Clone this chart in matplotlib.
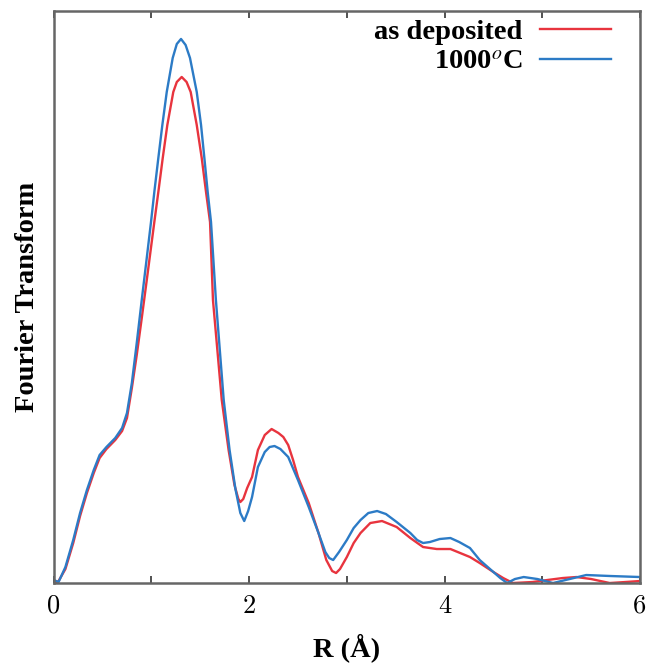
import numpy as np
import matplotlib
matplotlib.use("Agg")
import matplotlib.pyplot as plt

plt.rcParams['mathtext.fontset'] = 'stix'

# values (heights in pixel units above the baseline)
r_dep = [0.00, 0.05, 0.12, 0.20, 0.27, 0.34, 0.41, 0.47, 0.54, 0.63, 0.70, 0.75, 0.80,
         0.85, 0.90, 0.95, 1.03, 1.071, 1.116, 1.163, 1.224, 1.26, 1.31, 1.36, 1.402,
         1.464, 1.515, 1.559, 1.60, 1.63, 1.72, 1.79, 1.85, 1.89, 1.91, 1.94, 1.98,
         2.03, 2.09, 2.16, 2.23, 2.30, 2.35, 2.40, 2.45, 2.50, 2.61, 2.71, 2.79,
         2.85, 2.89, 2.93, 3.00, 3.07, 3.14, 3.24, 3.36, 3.51, 3.65, 3.78, 3.92,
         4.06, 4.26, 4.36, 4.50, 4.60, 4.70, 4.90, 5.05, 5.21, 5.35, 5.50, 5.69,
         5.85, 6.00]
ft_dep = [0, 2, 14, 40, 67, 90, 110, 125, 134, 143, 152, 165, 195,
          228, 264, 301, 361, 391, 425, 458, 491, 501, 506, 501, 491,
          458, 425, 391, 361, 283, 183, 133, 98, 84, 81, 84, 95,
          106, 133, 148, 154, 150, 146, 138, 123, 106, 80, 50, 23,
          12, 10, 14, 26, 40, 50, 60, 62, 56, 45, 36, 34,
          34, 26, 20, 11, 5, 0, 1, 3, 5, 6, 4, 0,
          1, 2]

r_ann = [0.00, 0.05, 0.12, 0.20, 0.27, 0.34, 0.41, 0.47, 0.54, 0.63, 0.70, 0.75, 0.80,
         0.85, 0.90, 0.95, 0.996, 1.030, 1.071, 1.112, 1.157, 1.218, 1.26, 1.303, 1.35,
         1.395, 1.464, 1.508, 1.542, 1.576, 1.61, 1.66, 1.74, 1.80, 1.86, 1.91, 1.95,
         1.99, 2.03, 2.09, 2.16, 2.21, 2.26, 2.32, 2.40, 2.50, 2.61, 2.71, 2.78,
         2.82, 2.86, 2.92, 3.00, 3.07, 3.14, 3.22, 3.31, 3.40, 3.51, 3.65, 3.72,
         3.78, 3.85, 3.95, 4.06, 4.15, 4.26, 4.36, 4.50, 4.57, 4.64, 4.72, 4.81,
         4.95, 5.11, 5.28, 5.45, 5.70, 6.00]
ft_ann = [3, 1, 16, 43, 70, 93, 113, 128, 136, 145, 155, 170, 200,
          240, 282, 323, 361, 391, 425, 458, 491, 525, 539, 544, 538,
          525, 491, 458, 425, 391, 361, 283, 183, 133, 94, 70, 62,
          72, 86, 116, 131, 136, 137, 134, 126, 103, 76, 50, 31,
          25, 23, 31, 43, 55, 63, 70, 72, 69, 61, 50, 43,
          40, 41, 44, 45, 41, 35, 23, 11, 5, 0, 4, 6,
          4, 0, 4, 8, 7, 6]

labels = ['as deposited', '1000$^{o}$C']
colors = ['#e8343e', '#2c7bc6']

fig = plt.figure(figsize=(6.46, 6.67), dpi=100)
ax = fig.add_axes([0.0831, 0.1259, 0.9076, 0.8569])

ax.plot(r_dep, ft_dep, color=colors[0], lw=1.7, label=labels[0])
ax.plot(r_ann, ft_ann, color=colors[1], lw=1.7, label=labels[1])

ax.set_xlim(0, 6)
ax.set_ylim(0, 571.5)
ax.set_yticks([])
ax.set_xticks(np.arange(0, 7, 1))
ax.set_xticklabels(['0', '', '2', '', '4', '', '6'], fontfamily='cmr10', fontsize=19)
ax.tick_params(axis='x', direction='in', top=True, length=5, width=1.2,
               color='#333333', pad=8)
for s in ax.spines.values():
    s.set_color('#666666')
    s.set_linewidth(1.8)

ax.set_xlabel('R (Å)', fontfamily='Liberation Serif', fontweight='bold', fontsize=20.5, labelpad=11)
ax.set_ylabel('Fourier Transform', fontfamily='Liberation Serif', fontweight='bold',
              fontsize=20.5, labelpad=10)

leg = ax.legend(loc='upper right', frameon=False, markerfirst=False,
                handlelength=2.5, handletextpad=0.6, labelspacing=0.15,
                borderaxespad=0, bbox_to_anchor=(0.970, 1.007),
                prop={'family': 'Liberation Serif', 'weight': 'bold', 'size': 20.5})
for t in leg.get_texts():
    t.set_ha('right')

fig.savefig('out.png', dpi=100)
